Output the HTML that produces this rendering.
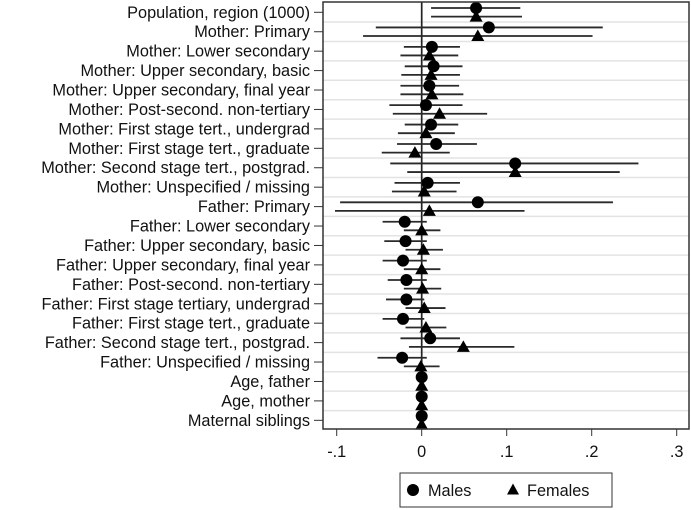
<!DOCTYPE html>
<html><head><meta charset="utf-8"><style>
html,body{margin:0;padding:0;background:#fff;}
svg{display:block;font-family:"Liberation Sans",Arial,sans-serif;}
</style></head><body>
<svg id="chart" width="691" height="510" viewBox="0 0 691 510">
<rect x="0" y="0" width="691" height="510" fill="#fff"/>
<g id="grid"></g><g id="zero"></g><g id="marks"></g><g id="axes"></g>
</svg>
<script>
const labels=["Population, region (1000)","Mother: Primary","Mother: Lower secondary","Mother: Upper secondary, basic","Mother: Upper secondary, final year","Mother: Post-second. non-tertiary","Mother: First stage tert., undergrad","Mother: First stage tert., graduate","Mother: Second stage tert., postgrad.","Mother: Unspecified / missing","Father: Primary","Father: Lower secondary","Father: Upper secondary, basic","Father: Upper secondary, final year","Father: Post-second. non-tertiary","Father: First stage tertiary, undergrad","Father: First stage tert., graduate","Father: Second stage tert., postgrad.","Father: Unspecified / missing","Age, father","Age, mother","Maternal siblings"];
const maleEst=[0.064,0.079,0.012,0.014,0.009,0.005,0.011,0.017,0.110,0.007,0.066,-0.020,-0.019,-0.022,-0.018,-0.018,-0.022,0.010,-0.023,0,0,0];
const maleLo=[0.011,-0.054,-0.021,-0.020,-0.025,-0.038,-0.020,-0.029,-0.037,-0.032,-0.096,-0.046,-0.044,-0.046,-0.040,-0.042,-0.046,-0.025,-0.052,-0.001,-0.001,-0.001];
const maleHi=[0.116,0.213,0.045,0.048,0.044,0.048,0.043,0.065,0.255,0.045,0.225,0.006,0.006,0.006,0.006,0.003,0.003,0.045,0.006,0.001,0.001,0.001];
const femEst=[0.064,0.066,0.009,0.011,0.012,0.021,0.005,-0.008,0.110,0.003,0.009,0.000,0.002,0.000,0.001,0.003,0.005,0.049,-0.001,0,0,0];
const femLo=[0.011,-0.069,-0.025,-0.024,-0.025,-0.034,-0.028,-0.047,-0.017,-0.035,-0.102,-0.021,-0.019,-0.021,-0.021,-0.019,-0.019,-0.015,-0.021,-0.001,-0.001,-0.001];
const femHi=[0.118,0.201,0.043,0.045,0.049,0.077,0.039,0.033,0.233,0.041,0.121,0.022,0.025,0.022,0.023,0.028,0.029,0.109,0.021,0.001,0.001,0.001];
const xTicks=[-0.1,0,0.1,0.2,0.3];
const xTickLabels=["-.1","0",".1",".2",".3"];

const NS="http://www.w3.org/2000/svg";
const L=323,R=689,T=2,B=429;
const X=v=>421.7+v*850;
const Y=i=>12.3+i*19.43;
function mk(tag,attrs,parent){const e=document.createElementNS(NS,tag);for(const k in attrs)e.setAttribute(k,attrs[k]);parent.appendChild(e);return e;}
const grid=document.getElementById('grid'),marks=document.getElementById('marks'),axes=document.getElementById('axes'),zero=document.getElementById('zero');
for(let i=0;i<labels.length-1;i++){
  const g=mk('line',{x1:L,x2:R,y1:(Y(i)+Y(i+1))/2,y2:(Y(i)+Y(i+1))/2,stroke:'#e3e3e3','stroke-width':1.5},grid);
  
  
}
const z=mk('line',{x1:X(0),x2:X(0),y1:T,y2:B,stroke:'#222','stroke-width':1.7},zero);


labels.forEach((lab,i)=>{
  const y=Y(i);
  const t=mk('text',{x:310,y:y+5.5,'text-anchor':'end','font-size':16.3,fill:'#111'},axes);
  t.textContent=lab;
  
  
  mk('line',{x1:314,x2:L,y1:y,y2:y,stroke:'#333','stroke-width':1},axes);
  const ym=y-4.3,yf=y+4.3;
  const cm=mk('line',{x1:X(maleLo[i]),x2:X(maleHi[i]),y1:ym,y2:ym,stroke:'#2a2a2a','stroke-width':1.8},marks);
  
  
  const cf=mk('line',{x1:X(femLo[i]),x2:X(femHi[i]),y1:yf,y2:yf,stroke:'#2a2a2a','stroke-width':1.8},marks);
  
  
  const c=mk('circle',{cx:X(maleEst[i]),cy:ym,r:6,fill:'#000'},marks);
  
  
  const fx=X(femEst[i]);
  const p=mk('polygon',{points:`${fx-6.5},${yf+5} ${fx+6.5},${yf+5} ${fx},${yf-6.5}`,fill:'#000'},marks);
  
  
});
const fr=mk('rect',{x:L,y:T,width:R-L,height:B-T,fill:'none',stroke:'#333','stroke-width':1.5},axes);


xTicks.forEach((v,k)=>{
  mk('line',{x1:X(v),x2:X(v),y1:B,y2:B+7,stroke:'#333','stroke-width':1},axes);
  const t=mk('text',{x:X(v),y:B+28,'text-anchor':'middle','font-size':16.3,fill:'#111'},axes);
  t.textContent=xTickLabels[k];
  
  
});
const lg=mk('g',{},axes);


mk('rect',{x:400,y:473,width:212,height:34,fill:'#fff',stroke:'#333','stroke-width':1},lg);
const lc=mk('circle',{cx:413,cy:490,r:6,fill:'#000'},lg);


const lt1=mk('text',{x:428,y:496,'font-size':16.3,fill:'#111'},lg);lt1.textContent='Males';


const lp=mk('polygon',{points:'507,494.5 519,494.5 513,483.5',fill:'#000'},lg);


const lt2=mk('text',{x:527,y:496,'font-size':16.3,fill:'#111'},lg);lt2.textContent='Females';


</script>
</body></html>
